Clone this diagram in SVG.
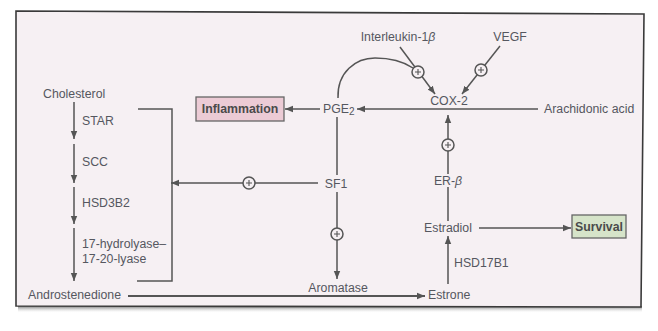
<svg xmlns="http://www.w3.org/2000/svg" width="658" height="331" viewBox="0 0 658 331">
<defs>
<style>
text{font-family:"Liberation Sans",Arial,sans-serif;font-size:12.3px;fill:#55575f}
.b{font-weight:bold;fill:#4a4a4a}
.ln{stroke:#555;stroke-width:1.5;fill:none}
.pc{fill:#f6f0f3;stroke:#555;stroke-width:1.5}
.pl{stroke:#555;stroke-width:1.1}
</style>
<marker id="ah" markerUnits="userSpaceOnUse" markerWidth="9" markerHeight="8" refX="8" refY="4" orient="auto">
<path d="M0,0.8 L8,4 L0,7.2 Z" fill="#555"/>
</marker>
<linearGradient id="sh" x1="0" y1="0" x2="0" y2="1">
<stop offset="0" stop-color="#777"/>
<stop offset="1" stop-color="#fff" stop-opacity="0"/>
</linearGradient>
<g id="plus"><circle r="6" class="pc"/><path d="M-3,0 H3 M0,-3 V3" class="pl"/></g>
</defs>
<rect width="658" height="331" fill="#fff"/>
<rect x="18" y="306" width="624" height="7" fill="url(#sh)"/>
<path d="M16,11 L644,14 L641,307 L16,306 Z" fill="#f6f0f3" stroke="#3a3a3a" stroke-width="1.6"/>

<g id="connectors">
<!-- left pathway -->
<line x1="74" y1="102" x2="74" y2="139" class="ln" marker-end="url(#ah)"/>
<line x1="74" y1="144" x2="74" y2="183" class="ln" marker-end="url(#ah)"/>
<line x1="74" y1="187" x2="74" y2="224" class="ln" marker-end="url(#ah)"/>
<line x1="74" y1="228" x2="74" y2="281" class="ln" marker-end="url(#ah)"/>
<path d="M138,109 H172 V281 H137" class="ln"/>
<line x1="318" y1="183" x2="171" y2="183" class="ln" marker-end="url(#ah)"/>
<use href="#plus" x="249" y="183"/>
<!-- bottom -->
<line x1="128" y1="296" x2="425" y2="296" stroke="#555" stroke-width="2" marker-end="url(#ah)"/>
<!-- PGE2 -->
<line x1="320" y1="109" x2="285" y2="109" class="ln" marker-end="url(#ah)"/>
<line x1="538" y1="109" x2="357" y2="109" class="ln" marker-end="url(#ah)"/>
<line x1="337" y1="117" x2="337" y2="175" class="ln"/>
<line x1="337" y1="192" x2="337" y2="279" class="ln" marker-end="url(#ah)"/>
<use href="#plus" x="337" y="234"/>
<!-- arc -->
<path d="M338,98 C337,72 356,58 375,58 C391,58 404,62 413,68" class="ln"/>
<!-- IL-1b -->
<line x1="400" y1="47" x2="435" y2="94" class="ln" marker-end="url(#ah)"/>
<use href="#plus" x="418" y="72"/>
<!-- VEGF -->
<line x1="500" y1="46" x2="462" y2="94" class="ln" marker-end="url(#ah)"/>
<use href="#plus" x="481" y="70"/>
<!-- ER-b to COX-2 -->
<line x1="448" y1="174" x2="448" y2="115" class="ln" marker-end="url(#ah)"/>
<use href="#plus" x="448" y="145"/>
<line x1="448" y1="187" x2="448" y2="221" class="ln"/>
<!-- Estradiol -> Survival -->
<line x1="479" y1="228" x2="571" y2="228" class="ln" marker-end="url(#ah)"/>
<!-- HSD17B1 -->
<line x1="448" y1="284" x2="448" y2="236" class="ln" marker-end="url(#ah)"/>
</g>

<g id="cholesterol"><text x="43" y="98">Cholesterol</text></g>
<g id="star"><text x="82" y="125">STAR</text></g>
<g id="scc"><text x="82" y="166">SCC</text></g>
<g id="hsd3b2"><text x="82" y="207">HSD3B2</text></g>
<g id="lyase"><text x="82" y="248">17-hydrolyase–</text><text x="82" y="263">17-20-lyase</text></g>
<g id="androstenedione"><text x="28" y="299">Androstenedione</text></g>
<g id="inflammation"><rect x="196" y="97" width="88" height="24" fill="#eccbd5" stroke="#666" stroke-width="1.3"/><text x="240" y="113" text-anchor="middle" class="b">Inflammation</text></g>
<g id="pge2"><text x="323" y="113">PGE<tspan font-size="10" dy="2">2</tspan></text></g>
<g id="cox2"><text x="449" y="105" text-anchor="middle">COX-2</text></g>
<g id="arachidonic"><text x="544" y="113">Arachidonic acid</text></g>
<g id="il1b"><text x="398" y="41" text-anchor="middle">Interleukin-1<tspan font-style="italic">β</tspan></text></g>
<g id="vegf"><text x="510" y="41" text-anchor="middle">VEGF</text></g>
<g id="sf1"><text x="336" y="188" text-anchor="middle">SF1</text></g>
<g id="aromatase"><text x="338" y="292" text-anchor="middle">Aromatase</text></g>
<g id="erb"><text x="448" y="185" text-anchor="middle">ER-<tspan font-style="italic">β</tspan></text></g>
<g id="estradiol"><text x="448" y="232" text-anchor="middle">Estradiol</text></g>
<g id="survival"><rect x="572" y="215" width="54" height="23" fill="#d6e4c9" stroke="#666" stroke-width="1.3"/><text x="599" y="231" text-anchor="middle" class="b">Survival</text></g>
<g id="hsd17b1"><text x="454" y="267">HSD17B1</text></g>
<g id="estrone"><text x="428" y="299">Estrone</text></g>
</svg>
